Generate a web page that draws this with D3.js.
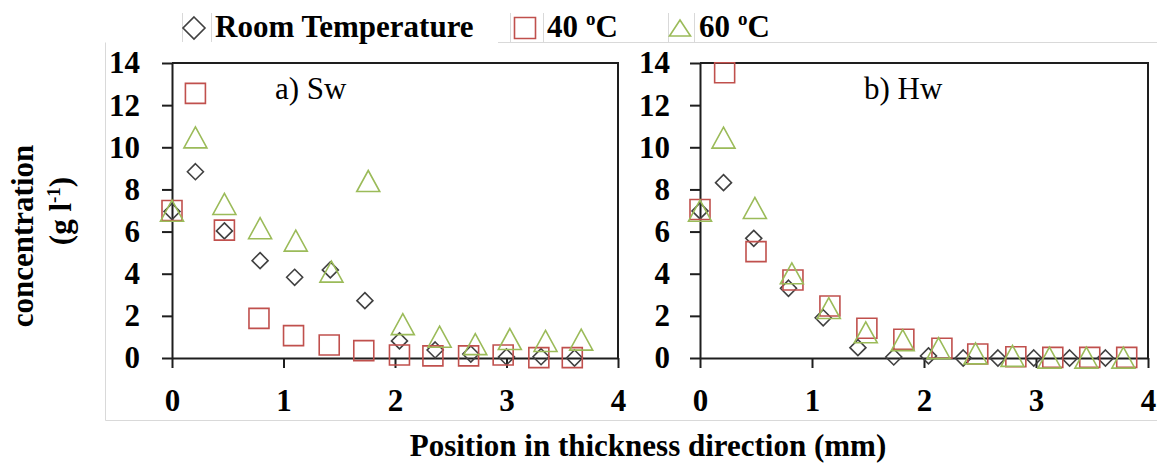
<html>
<head>
<meta charset="utf-8">
<script src="https://d3js.org/d3.v7.min.js"></script>
<style>
body{margin:0;background:#fff;}
svg text{font-family:"Liberation Serif","Times New Roman",serif;}
</style>
</head>
<body>
<div id="chart"></div>
<script>
// x positions (mm) and concentrations (g/l)
const swRoomX = [0, 0.21, 0.47, 0.79, 1.10, 1.42, 1.73, 2.04, 2.36, 2.68, 3.00, 3.31, 3.61];
const swRoomY = [6.95, 8.84, 6.03, 4.62, 3.83, 4.18, 2.72, 0.81, 0.38, 0.19, 0.05, 0.06, 0.0];
const sw40X = [0, 0.21, 0.47, 0.78, 1.09, 1.41, 1.72, 2.04, 2.34, 2.66, 2.97, 3.29, 3.59];
const sw40Y = [7.0, 12.56, 6.07, 1.88, 1.06, 0.62, 0.35, 0.14, 0.10, 0.10, 0.14, 0.02, 0.02];
const sw60X = [0, 0.21, 0.47, 0.79, 1.11, 1.43, 1.76, 2.07, 2.40, 2.72, 3.03, 3.35, 3.67];
const sw60Y = [6.99, 10.47, 7.31, 6.16, 5.57, 4.10, 8.40, 1.61, 1.01, 0.66, 0.90, 0.81, 0.87];

const hwRoomX = [0, 0.21, 0.48, 0.79, 1.10, 1.41, 1.73, 2.04, 2.35, 2.66, 2.98, 3.30, 3.62];
const hwRoomY = [6.98, 8.32, 5.68, 3.31, 1.91, 0.49, 0.05, 0.1, 0.0, 0.0, 0.0, 0.0, 0.0];
const hw40X = [0, 0.22, 0.50, 0.83, 1.16, 1.49, 1.82, 2.16, 2.48, 2.82, 3.15, 3.48, 3.81];
const hw40Y = [7.05, 13.54, 5.05, 3.70, 2.47, 1.41, 0.89, 0.46, 0.19, 0.06, 0.03, 0.03, 0.03];
const hw60X = [0, 0.21, 0.49, 0.82, 1.15, 1.48, 1.81, 2.13, 2.46, 2.79, 3.12, 3.45, 3.78];
const hw60Y = [6.99, 10.46, 7.12, 4.02, 2.37, 1.22, 0.85, 0.47, 0.22, 0.10, 0.02, 0.02, 0.02];

const seriesNames = ['Room Temperature', '40', '60'];
const xTicks = [0, 1, 2, 3, 4];
const yTicks = [0, 2, 4, 6, 8, 10, 12, 14];

const width = 1157, height = 466;
const plotTop = 63, plotBottom = 358;
const panels = [
  {name:'a) Sw', left:172, right:618, labelX:275, pad:22,
   series:[[swRoomX, swRoomY], [sw40X, sw40Y], [sw60X, sw60Y]]},
  {name:'b) Hw', left:700, right:1148, labelX:864, pad:20,
   series:[[hwRoomX, hwRoomY], [hw40X, hw40Y], [hw60X, hw60Y]]}
];

const colors = ['#404040', '#c0504d', '#9bbb59'];
const axisColor = '#1e1e1e';

// marker paths
function diamond(r){ return `M0,${-r}L${r},0L0,${r}L${-r},0Z`; }
function square(s){ return `M${-s/2},${-s/2}h${s}v${s}h${-s}Z`; }
function triangle(w,h){ return `M0,${-h/2}L${w/2},${h/2}L${-w/2},${h/2}Z`; }
const markers = [diamond(8), square(20), triangle(23, 21)];

const svg = d3.select('#chart').append('svg')
  .attr('width', width).attr('height', height);

// light chart-area frame
svg.append('path')
  .attr('d', 'M498,42.5H1160M105.5,42.5V420.5H1160')
  .attr('fill','none').attr('stroke','#d9d9d9').attr('stroke-width',1);

const y = d3.scaleLinear().domain([0, 14]).range([plotBottom, plotTop]);

panels.forEach(p=>{
  const x = d3.scaleLinear().domain([0, 4]).range([p.left, p.right]);
  const g = svg.append('g');

  // plot border (top + right)
  g.append('path')
    .attr('d', `M${p.left},${plotTop}H${p.right}V${plotBottom}`)
    .attr('fill','none').attr('stroke',axisColor).attr('stroke-width',2);

  const ya = g.append('g')
    .attr('transform',`translate(${p.left},0)`)
    .call(d3.axisLeft(y).tickValues(yTicks).tickFormat(d3.format('d'))
      .tickSize(10).tickSizeOuter(0).tickPadding(p.pad));
  const xa = g.append('g')
    .attr('transform',`translate(0,${plotBottom})`)
    .call(d3.axisBottom(x).tickValues(xTicks).tickFormat(d3.format('d'))
      .tickSize(10).tickSizeOuter(0).tickPadding(21));

  [ya, xa].forEach(a=>{
    a.select('.domain').attr('stroke',axisColor).attr('stroke-width',2);
    a.selectAll('.tick line').attr('stroke',axisColor).attr('stroke-width',2);
    a.selectAll('text')
      .attr('fill','#000')
      .style('font-size','31px')
      .style('font-weight','bold')
      .style('font-family','"Liberation Serif", serif');
  });

  g.append('text')
    .attr('x', p.labelX).attr('y', 99)
    .style('font-size','31px')
    .text(p.name);

  p.series.forEach(([xs, ys], si)=>{
    g.append('g').selectAll('path')
      .data(xs.map((v,i)=>[v, ys[i]]))
      .join('path')
      .attr('transform', d=>`translate(${x(d[0])},${y(d[1])})`)
      .attr('d', markers[si])
      .attr('fill','none')
      .attr('stroke', colors[si])
      .attr('stroke-width', 1.6);
  });
});

// axis titles
svg.append('text')
  .attr('transform','translate(33,236) rotate(-90)')
  .attr('text-anchor','middle')
  .style('font-size','31px').style('font-weight','bold')
  .text('concentration');
const unit = svg.append('text')
  .attr('transform','translate(71,211) rotate(-90)')
  .attr('text-anchor','middle')
  .style('font-size','31px').style('font-weight','bold');
unit.append('tspan').text('(g l');
unit.append('tspan').attr('dy',-11).style('font-size','19px').text('-1');
unit.append('tspan').attr('dy',11).text(')');

svg.append('text')
  .attr('x', 648).attr('y', 456)
  .attr('text-anchor','middle')
  .style('font-size','31px').style('font-weight','bold')
  .text('Position in thickness direction (mm)');

// legend
const legendItems = [
  {mx:194, tx:215, sep:[182, 211], marker:diamond(11), label:seriesNames[0], deg:false},
  {mx:525, tx:547, sep:[510, 543], marker:square(21), label:seriesNames[1], deg:true},
  {mx:680, tx:699, sep:[668, 694], marker:triangle(21, 16), label:seriesNames[2], deg:true}
];
const leg = svg.append('g');
legendItems.forEach((d,i)=>{
  d.sep.forEach(sx=>{
    leg.append('line')
      .attr('x1',sx+0.5).attr('x2',sx+0.5).attr('y1',13).attr('y2',42)
      .attr('stroke','#d9d9d9');
  });
  leg.append('path')
    .attr('transform',`translate(${d.mx},${28})`)
    .attr('d', d.marker)
    .attr('fill','none').attr('stroke',colors[i]).attr('stroke-width',1.6);
  const t = leg.append('text')
    .attr('x', d.tx).attr('y', 37)
    .style('font-size','31px').style('font-weight','bold');
  t.append('tspan').text(d.label);
  if(d.deg){
    t.append('tspan').attr('dx',8).attr('dy',-12).style('font-size','19px').text('o');
    t.append('tspan').attr('dy',12).text('C');
  }
});
</script>
</body>
</html>
